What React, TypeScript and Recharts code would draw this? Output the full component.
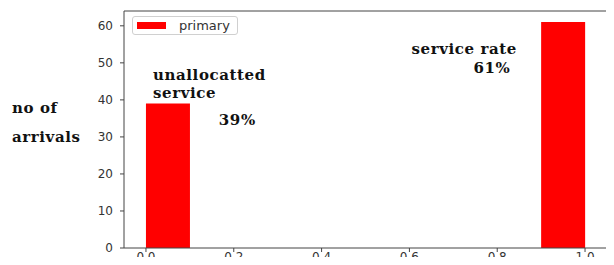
import React from "react";
import {
  BarChart,
  Bar,
  XAxis,
  YAxis,
  Legend,
  ReferenceLine,
  ReferenceDot,
} from "recharts";

// histogram bins (centres) and counts
const binCenters = [0.05, 0.15, 0.25, 0.35, 0.45, 0.55, 0.65, 0.75, 0.85, 0.95];
const primaryCounts = [39, 0, 0, 0, 0, 0, 0, 0, 0, 61];

const xTicks = [0, 0.2, 0.4, 0.6, 0.8, 1.0];
const yTicks = [0, 10, 20, 30, 40, 50, 60];

// text notes placed in data units
const notes = [
  { text: "unallocatted", x: 0.016, y: 46.8, anchor: "start" },
  { text: "service", x: 0.016, y: 41.8, anchor: "start" },
  { text: "39%", x: 0.166, y: 34.6, anchor: "start" },
  { text: "service rate", x: 0.845, y: 53.8, anchor: "end" },
  { text: "61%", x: 0.83, y: 48.7, anchor: "end" },
];

const data = binCenters.map((bin, i) => ({ bin, primary: primaryCounts[i] }));

const spine = "#444";
const tickFont = { fontFamily: "DejaVu Sans", fontSize: 12, fill: "#333" };
const noteFont = "DejaVu Serif";

const LegendBox = () => (
  <div
    style={{
      display: "flex",
      alignItems: "center",
      border: "1px solid #d0d0d0",
      borderRadius: 3,
      background: "white",
      width: 106,
      height: 19,
      boxSizing: "border-box",
    }}
  >
    <span
      style={{
        display: "inline-block",
        width: 29,
        height: 7,
        background: "#ff0000",
        marginLeft: 4,
        marginRight: 13,
      }}
    />
    <span style={{ fontFamily: "DejaVu Sans", fontSize: 13, color: "#333" }}>primary</span>
  </div>
);

export default function App() {
  return (
    <div style={{ position: "relative", margin: -8, width: 614, height: 265, background: "white" }}>
      <div
        style={{
          position: "absolute",
          left: 12,
          top: 94,
          fontFamily: noteFont,
          fontWeight: "bold",
          fontSize: 15,
          letterSpacing: 0.6,
          color: "#111",
          lineHeight: "29px",
        }}
      >
        <div>no of</div>
        <div>arrivals</div>
      </div>
      <BarChart
        width={614}
        height={265}
        data={data}
        margin={{ top: 11, right: 7, bottom: 0, left: 94 }}
        barCategoryGap={0}
        barGap={0}
      >
        <XAxis
          type="number"
          dataKey="bin"
          domain={[-0.05, 1.05]}
          ticks={xTicks}
          tickFormatter={(v: number) => v.toFixed(1)}
          height={17}
          tick={tickFont}
          tickSize={4}
          tickMargin={0}
          axisLine={{ stroke: spine }}
          tickLine={{ stroke: spine }}
          allowDataOverflow
        />
        <YAxis
          type="number"
          domain={[0, 64]}
          ticks={yTicks}
          width={30}
          tick={tickFont}
          tickSize={4}
          tickMargin={7}
          axisLine={{ stroke: spine }}
          tickLine={{ stroke: spine }}
          allowDataOverflow
        />
        <ReferenceLine y={64} stroke={spine} />
        <ReferenceLine x={1.05} stroke={spine} />
        <Legend
          layout="horizontal"
          verticalAlign="middle"
          align="center"
          content={() => <LegendBox />}
          wrapperStyle={{ top: 16, left: 132, width: 106, height: 19 }}
        />
        <Bar dataKey="primary" name="primary" fill="#ff0000" isAnimationActive={false} />
        {notes.map((n) => (
          <ReferenceDot
            key={n.text}
            x={n.x}
            y={n.y}
            r={0}
            fill="none"
            stroke="none"
            label={(p: any) => (
              <text
                x={p.viewBox.x}
                y={p.viewBox.y}
                textAnchor={n.anchor}
                dominantBaseline="central"
                fontFamily={noteFont}
                fontWeight="bold"
                fontSize={15}
                letterSpacing={0.6}
                fill="#111"
              >
                {n.text}
              </text>
            )}
          />
        ))}
      </BarChart>
    </div>
  );
}
